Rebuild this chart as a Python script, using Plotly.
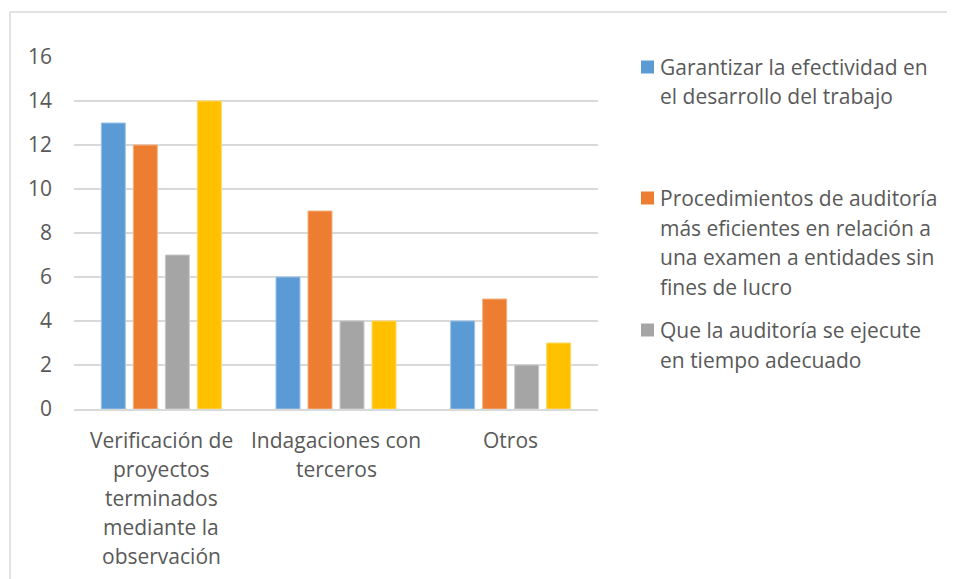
import plotly.graph_objects as go

# ---- data ----
categories = [
    "Verificación de proyectos terminados mediante la observación",
    "Indagaciones con terceros",
    "Otros",
]
category_lines = [
    ["Verificación de", "proyectos", "terminados", "mediante la", "observación"],
    ["Indagaciones con", "terceros"],
    ["Otros"],
]
series_names = [
    "Garantizar la efectividad en el desarrollo del trabajo",
    "Procedimientos de auditoría más eficientes en relación a una examen a entidades sin fines de lucro",
    "Que la auditoría se ejecute en tiempo adecuado",
    "Serie 4",
]
legend_lines = [
    ["Garantizar la efectividad en", "el desarrollo del trabajo"],
    ["Procedimientos de auditoría", "más eficientes en relación a",
     "una examen a entidades sin", "fines de lucro"],
    ["Que la auditoría se ejecute", "en tiempo adecuado"],
]
s1 = [13, 6, 4]
s2 = [12, 9, 5]
s3 = [7, 4, 2]
s4 = [14, 4, 3]
y_ticks = [0, 2, 4, 6, 8, 10, 12, 14, 16]

colors = ["#5B9BD5", "#ED7D31", "#A5A5A5", "#FFC000"]
outline = ["#9DC3E6", "#F4B183", "#C9C9C9", "#FFD966"]
FONT = "Open Sans"
FS = 21
TXT = "#595959"

OFF = 8  # page body margin offset
W, H = 955 - OFF, 579 - OFF
L, R, T, B = 74 - OFF, 598 - OFF, 57 - OFF, 409 - OFF  # plot area in px


def px(x):
    return (x - OFF - L) / (R - L)


def py(y):
    return (B - (y - OFF)) / (B - T)


fig = go.Figure()
for name, vals, c, oc in zip(series_names, [s1, s2, s3, s4], colors, outline):
    fig.add_trace(go.Bar(
        x=categories, y=vals, name=name,
        marker=dict(color=c, line=dict(color=oc, width=1)),
        showlegend=False,
    ))

annotations = []
# category labels
for cat, lines in zip(categories, category_lines):
    for i, ln in enumerate(lines):
        annotations.append(dict(
            x=cat, xref="x", y=py(440 + 29 * i), yref="paper",
            text=ln, showarrow=False, xanchor="center", yanchor="middle",
            font=dict(family=FONT, size=FS, color=TXT),
        ))

# legend (manual, to match the reference spacing)
legend_first_y = [67, 198, 330]
shapes = []
for k, (lines, y0) in enumerate(zip(legend_lines, legend_first_y)):
    shapes.append(dict(
        type="rect", xref="paper", yref="paper",
        x0=px(641), x1=px(654), y0=py(y0 - 6.5), y1=py(y0 + 6.5),
        fillcolor=colors[k], line=dict(width=0),
    ))
    for i, ln in enumerate(lines):
        annotations.append(dict(
            x=px(658), xref="paper", y=py(y0 + 29.5 * i), yref="paper",
            text=ln, showarrow=False, xanchor="left", yanchor="middle",
            font=dict(family=FONT, size=FS, color=TXT),
        ))

# outer chart border (top and left edges visible)
shapes.append(dict(type="line", xref="paper", yref="paper",
                   x0=px(10), x1=px(970), y0=py(12), y1=py(12),
                   line=dict(color="#D9D9D9", width=1.5)))
shapes.append(dict(type="line", xref="paper", yref="paper",
                   x0=px(10), x1=px(10), y0=py(12), y1=py(600),
                   line=dict(color="#D9D9D9", width=1.5)))

fig.update_layout(
    width=W, height=H,
    margin=dict(l=L, r=W - R, t=T, b=H - B, pad=0),
    paper_bgcolor="white", plot_bgcolor="white",
    barmode="group", bargap=0.267, bargroupgap=0.25,
    font=dict(family=FONT, size=FS, color=TXT),
    annotations=annotations, shapes=shapes,
    showlegend=False,
)
fig.update_xaxes(showticklabels=False, showgrid=False, showline=True,
                 linecolor="#D9D9D9", linewidth=1.5, ticks="")
fig.update_yaxes(range=[0, 16], tickvals=y_ticks, showgrid=True,
                 gridcolor="#D9D9D9", gridwidth=1.5, zeroline=False,
                 showline=False, ticks="", ticklabelstandoff=21,
                 tickfont=dict(family=FONT, size=FS, color=TXT))

fig.write_html("out.html")
